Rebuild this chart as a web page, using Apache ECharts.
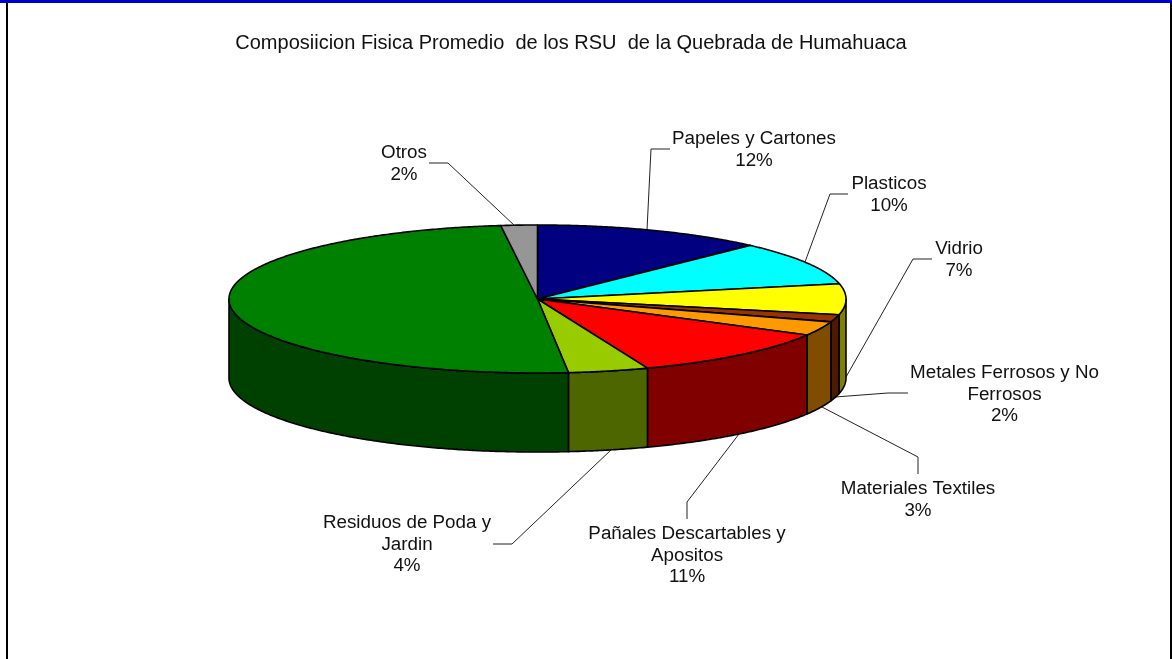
<!DOCTYPE html>
<html>
<head>
<meta charset="utf-8">
<title>Composicion Fisica RSU</title>
<script src="https://cdn.jsdelivr.net/npm/echarts@6/dist/echarts.min.js"></script>
<style>
  html, body { margin: 0; padding: 0; background: #fff; }
  #chart { width: 1172px; height: 659px; }
</style>
</head>
<body>
<div id="chart"></div>
<script>
// datos, en % (sentido horario desde arriba)
const categories = ['Papeles y Cartones', 'Plasticos', 'Vidrio', 'Metales Ferrosos y No\nFerrosos', 'Materiales Textiles',
  'Pañales Descartables y\nApositos', 'Residuos de Poda y\nJardin', '', 'Otros'];
const values = [12.1, 9.6, 6.7, 1.6, 3.1, 11.1, 4.2, 49.7, 1.9];
const titleText = 'Composiicion Fisica Promedio  de los RSU  de la Quebrada de Humahuaca';

const topColors = ['#000080', '#00FFFF', '#FFFF00', '#993300', '#FF9900', '#FF0000', '#99CC00', '#008000', '#969696'];
const sideColors = ['#000040', '#008080', '#808000', '#4D1A00', '#804D00', '#800000', '#4D6600', '#004000', '#4B4B4B'];

// disposicion de las etiquetas y sus lineas guia
const labelPos = [[754, 139], [889, 184], [959, 249], [1004.5, 373], [918, 489], [687, 534], [407, 523], null, [404, 153]];
const leaders = [
  [[670, 149], [651, 149], [647, 230]],
  [[848, 194], [830, 194], [805, 262]],
  [[932, 259], [913, 259], [846, 377]],
  [[908, 393], [888, 393], [835, 397]],
  [[918, 474], [918, 457], [822, 407]],
  [[687, 519], [687, 502], [739, 434]],
  [[493, 544], [512, 544], [612, 449]],
  null,
  [[429, 163], [448, 163], [515, 226]]
];

const cx = 537.5, cy = 299, rx = 308.5, ry = 74, depth = 79;
const font = '"Liberation Sans", Arial, sans-serif';
const fontSize = 18.8, titleSize = 20, lineH = 21.5;

const total = values.reduce((a, b) => a + b, 0);
let acc = 0;
const starts = values.map(v => { const s = acc; acc += v; return s / total * 360; });
const ends = values.map((v, i) => starts[i] + v / total * 360);

function rimPoint(deg, dy) {
  const a = deg * Math.PI / 180;
  return [cx + rx * Math.sin(a), cy - ry * Math.cos(a) + dy];
}
function arc(from, to, dy) {
  const pts = [];
  const n = Math.max(2, Math.ceil((to - from) * 2));
  for (let k = 0; k <= n; k++) pts.push(rimPoint(from + (to - from) * k / n, dy));
  return pts;
}

// pared frontal: solo se ve entre 90 y 270 grados
function renderSide(params) {
  const i = params.dataIndex;
  const from = Math.max(starts[i], 90), to = Math.min(ends[i], 270);
  if (to <= from) return null;
  const pts = arc(from, to, 0).concat(arc(from, to, depth).reverse());
  return {
    type: 'polygon',
    shape: { points: pts },
    style: { fill: sideColors[i], stroke: '#000', lineWidth: 1.6, lineJoin: 'round' }
  };
}
function renderTop(params) {
  const i = params.dataIndex;
  const pts = [[cx, cy]].concat(arc(starts[i], ends[i], 0));
  return {
    type: 'polygon',
    shape: { points: pts },
    style: { fill: topColors[i], stroke: '#000', lineWidth: 1.6, lineJoin: 'round' }
  };
}

const graphics = [
  { type: 'rect', silent: true, shape: { x: 6, y: 0, width: 2, height: 659 }, style: { fill: '#000' } },
  { type: 'rect', silent: true, shape: { x: 1170, y: 0, width: 2, height: 659 }, style: { fill: '#000' } },
  { type: 'rect', silent: true, shape: { x: 0, y: 0, width: 1172, height: 3 }, style: { fill: '#0000CC' } }
];
categories.forEach((name, i) => {
  if (!labelPos[i]) return;
  const lines = name.split('\n').concat(Math.round(values[i]) + '%');
  lines.forEach((t, k) => {
    graphics.push({
      type: 'text', silent: true, x: labelPos[i][0], y: labelPos[i][1] + k * lineH,
      style: { text: t, font: fontSize + 'px ' + font, fill: '#111', align: 'center', verticalAlign: 'middle' }
    });
  });
  graphics.push({
    type: 'polyline', silent: true, shape: { points: leaders[i] },
    style: { stroke: '#222', lineWidth: 1, fill: null }
  });
});

const chart = echarts.init(document.getElementById('chart'), null, { renderer: 'canvas' });
chart.setOption({
  animation: false,
  backgroundColor: '#fff',
  title: {
    text: titleText, left: 566, top: 28, textAlign: 'center',
    textStyle: { fontFamily: font, fontSize: titleSize, fontWeight: 'normal', color: '#111' }
  },
  graphic: graphics,
  series: [
    { type: 'custom', coordinateSystem: 'none', silent: true, z: 2, renderItem: renderSide, data: values },
    { type: 'custom', coordinateSystem: 'none', silent: true, z: 3, renderItem: renderTop, data: values }
  ]
});
</script>
</body>
</html>
